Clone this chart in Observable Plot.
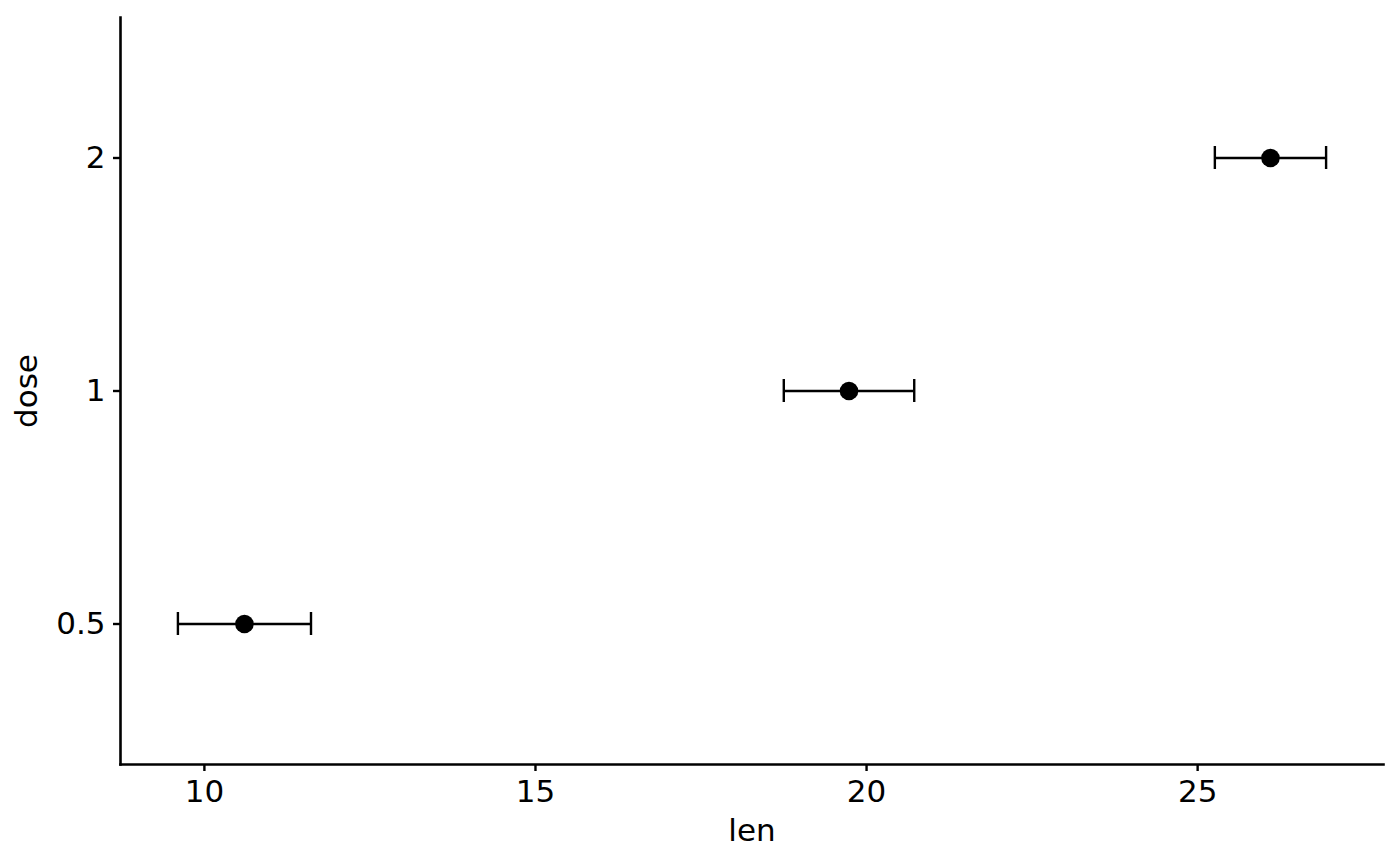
<!DOCTYPE html>
<html>
<head>
<meta charset="utf-8">
<script src="https://cdn.jsdelivr.net/npm/d3@7"></script>
<script src="https://cdn.jsdelivr.net/npm/@observablehq/plot@0.6"></script>
<style>
  html, body { margin: 0; padding: 0; background: #fff; }
  #chart svg { display: block; }
</style>
</head>
<body>
<div id="chart"></div>
<script>
const doses = ["0.5", "1", "2"];
const meanLen = [10.605, 19.735, 26.10];
const lowLen = [9.60, 18.75, 25.26];
const highLen = [11.61, 20.72, 26.94];
const xTicks = [10, 15, 20, 25];

const data = doses.map((d, i) => ({dose: d, len: meanLen[i], lo: lowLen[i], hi: highLen[i]}));

const dmin = d3.min(lowLen), dmax = d3.max(highLen);
const pad = (dmax - dmin) * 0.05;
const xDomain = [dmin - pad, dmax + pad];

const W = 1400, H = 866;
const mL = 120, mR = 17, mT = 17, mB = 102;
const FS = 31;

const plot = Plot.plot({
  width: W,
  height: H,
  marginLeft: mL,
  marginRight: mR,
  marginTop: mT,
  marginBottom: mB,
  style: {fontFamily: "DejaVu Sans", fontSize: FS + "px", color: "#000", background: "#fff"},
  x: {domain: xDomain, ticks: xTicks, label: null},
  y: {type: "band", domain: doses.slice().reverse(), paddingInner: 0.9, paddingOuter: 0.55, label: null},
  marks: [
    Plot.axisX({ticks: xTicks, tickSize: 7, tickPadding: 8, fontSize: FS, strokeWidth: 2.4, label: null, fill: "#000"}),
    Plot.axisY({tickSize: 7, tickPadding: 8, fontSize: FS, strokeWidth: 2.4, label: null, fill: "#000"}),
    Plot.frame({anchor: "left", strokeWidth: 2.6, stroke: "#000"}),
    Plot.frame({anchor: "bottom", strokeWidth: 2.6, stroke: "#000"}),
    Plot.ruleY(data, {y: "dose", x1: "lo", x2: "hi", stroke: "#000", strokeWidth: 2.4}),
    Plot.tickX(data, {x: "lo", y: "dose", stroke: "#000", strokeWidth: 2.4}),
    Plot.tickX(data, {x: "hi", y: "dose", stroke: "#000", strokeWidth: 2.4}),
    Plot.dot(data, {x: "len", y: "dose", r: 9.3, fill: "#000", stroke: null}),
    Plot.text(["len"], {frameAnchor: "bottom", dy: 67, textAnchor: "middle", lineAnchor: "middle", text: d => d, fontSize: FS, fill: "#000"}),
    Plot.text(["dose"], {frameAnchor: "left", dx: -93, rotate: -90, textAnchor: "middle", lineAnchor: "middle", text: d => d, fontSize: FS, fill: "#000"})
  ]
});
document.getElementById("chart").appendChild(plot);
</script>
</body>
</html>
